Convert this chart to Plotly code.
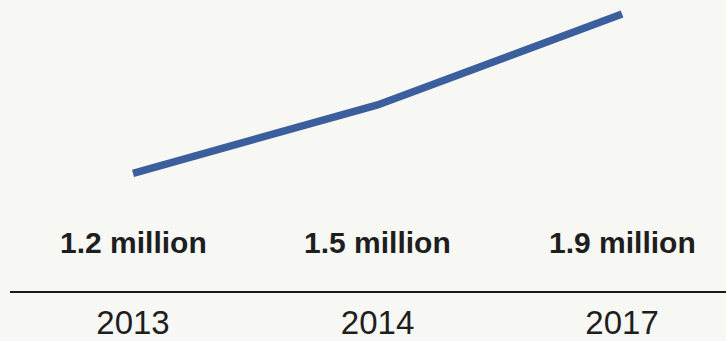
import plotly.graph_objects as go

years = ["2013", "2014", "2017"]
values = [1.2, 1.5, 1.9]
labels = ["1.2 million", "1.5 million", "1.9 million"]

bg = "#f7f7f4"
fig = go.Figure()
fig.add_trace(go.Scatter(
    x=years, y=values, mode="lines",
    line=dict(color="#3b5e9c", width=7.5),
    hoverinfo="skip", showlegend=False,
))

for i, lab in enumerate(labels):
    fig.add_annotation(
        x=i, xref="x", y=0.165, yref="paper",
        text="<b>" + lab + "</b>", showarrow=False, xanchor="center", yanchor="middle",
        font=dict(family="Liberation Sans", size=30, color="#1e1e1e"),
    )

fig.update_layout(
    width=726, height=341,
    margin=dict(l=10, r=0, t=0, b=45),
    paper_bgcolor=bg, plot_bgcolor=bg,
    xaxis=dict(
        type="category", range=[-0.503, 2.425],
        showgrid=False, zeroline=False,
        showline=True, linecolor="#1a1a1a", linewidth=2,
        ticks="outside", ticklen=1, tickcolor="rgba(0,0,0,0)",
        tickfont=dict(family="Liberation Sans", size=33, color="#1e1e1e"),
    ),
    yaxis=dict(
        range=[0.683, 1.961], visible=False,
    ),
)

fig.write_html("out.html")
